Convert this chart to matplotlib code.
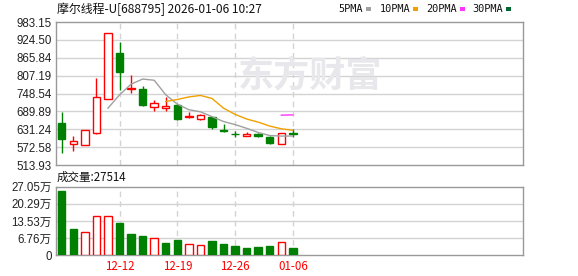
import matplotlib
matplotlib.use("Agg")
import matplotlib.pyplot as plt
import numpy as np
import pandas as pd

plt.rcParams['font.family'] = ['Liberation Sans', 'Noto Sans CJK SC', 'DejaVu Sans']

# ---------------- data ----------------
dates = ["12-05", "12-08", "12-09", "12-10", "12-11", "12-12", "12-15", "12-16", "12-17",
         "12-18", "12-19", "12-22", "12-23", "12-24", "12-25", "12-26", "12-29", "12-30",
         "12-31", "01-05", "01-06"]
opens = [650.8, 581.9, 580.6, 620.0, 731.5, 881.4, 763.5, 763.3, 705.2, 702.0, 710.8,
         671.5, 664.9, 670.4, 629.0, 617.0, 610.1, 615.7, 605.8, 583.8, 619.0]
closes = [600.3, 591.7, 627.8, 736.0, 946.0, 819.0, 767.0, 711.8, 716.4, 707.5, 665.9,
          675.7, 677.0, 637.6, 627.0, 615.5, 614.5, 609.1, 587.1, 617.9, 617.0]
highs = [687.9, 609.1, 628.0, 799.4, 946.5, 917.5, 809.3, 773.1, 727.2, 736.0, 714.1,
         688.9, 681.3, 672.4, 647.5, 625.5, 621.4, 620.0, 608.0, 618.0, 633.1]
lows = [554.4, 560.9, 578.0, 615.7, 731.0, 760.0, 751.2, 707.5, 692.1, 692.0, 661.6,
        667.2, 662.8, 631.1, 622.2, 607.0, 609.0, 607.0, 583.8, 583.5, 606.8]
volumes = [25.35, 10.37, 9.19, 15.38, 15.38, 12.86, 8.40, 7.60, 6.70, 4.85, 6.03,
           4.34, 3.94, 5.64, 4.46, 3.67, 2.88, 3.27, 3.67, 5.13, 2.7514]  # 万
price_ticks = [513.93, 572.58, 631.24, 689.89, 748.54, 807.19, 865.84, 924.50, 983.15]
price_tick_labels = ["513.93", "572.58", "631.24", "689.89", "748.54", "807.19", "865.84", "924.50", "983.15"]
vol_ticks = [0, 6.76, 13.53, 20.29, 27.05]
vol_tick_labels = ["0", "6.76万", "13.53万", "20.29万", "27.05万"]
date_ticks = ["12-12", "12-19", "12-26", "01-06"]
ma_periods = [5, 10, 20, 30]
ma_colors = ["#a0a0a0", "#f0a000", "#ff33ff", "#006633"]
title = "摩尔线程-U[688795] 2026-01-06 10:27"
vol_label = "成交量:27514"

RED = "#ff0000"
GREEN = "#008000"
GRID = "#d3d3d3"
BORDER = "#999999"

n = len(dates)
x = np.arange(n)
o = np.array(opens); c = np.array(closes); h = np.array(highs); l = np.array(lows)
up = c >= o
prev = np.concatenate([[o[0]], c[:-1]])
vol_up = c > prev

fig = plt.figure(figsize=(5.78, 2.76), dpi=100)
L, R = 56 / 578, 522.7 / 578
ax = fig.add_axes([L, 1 - 165 / 276, R - L, (165 - 22) / 276])
axv = fig.add_axes([L, 1 - 255.3 / 276, R - L, (255.3 - 186.7) / 276])

xlim = (-0.5, 39.9)
for a in (ax, axv):
    a.set_xlim(*xlim)
    for s in a.spines.values():
        s.set_color(BORDER)
        s.set_linewidth(1.0)
    a.tick_params(length=0)
    a.set_xticks([])

# ---- main price panel ----
ax.set_ylim(price_ticks[0], price_ticks[-1])
ax.set_yticks(price_ticks)
ax.set_yticklabels(price_tick_labels, fontsize=8.3, color="#222222")
ax.tick_params(axis='y', pad=3)
for t in price_ticks[1:-1]:
    ax.axhline(t, color=GRID, lw=1.0, zorder=0)
date_idx = [dates.index(d) for d in date_ticks]
for di in date_idx:
    ax.axvline(di, color=GRID, lw=1.0, ls=(0, (4, 3)), zorder=0)
    axv.axvline(di, color=GRID, lw=1.0, ls=(0, (4, 3)), zorder=0)

# watermark
ax.text((238 - 56) / (522.7 - 56), 0.62, "东方财富", transform=ax.transAxes, fontsize=26,
        color="#e8e8ec", family=['Noto Sans CJK SC'], fontweight='bold', ha='left',
        va='center', zorder=0.5)

width = 0.64
body_min = 1.2
for i in range(n):
    col = RED if up[i] else GREEN
    bot = min(o[i], c[i]); top = max(o[i], c[i])
    hgt = max(top - bot, body_min)
    ax.vlines(x[i], l[i], h[i], color=col, lw=1.0, zorder=2)
    if up[i]:
        ax.bar(x[i], hgt, width, bottom=bot, facecolor="white", edgecolor=col, lw=1.0, zorder=3)
    else:
        ax.bar(x[i], hgt, width, bottom=bot, facecolor=col, edgecolor=col, lw=1.0, zorder=3)

cs = pd.Series(c)
for p, colr in zip(ma_periods, ma_colors):
    ma = cs.rolling(p).mean()
    if ma.notna().sum() == 0:
        continue
    ax.plot(x, ma.values, color=colr, lw=1.0, zorder=4)

# ---- volume panel ----
axv.set_ylim(vol_ticks[0], vol_ticks[-1])
axv.set_yticks(vol_ticks)
axv.set_yticklabels(vol_tick_labels, fontsize=8.3, color="#222222")
axv.tick_params(axis='y', pad=3)
for t in vol_ticks[1:-1]:
    axv.axhline(t, color=GRID, lw=1.0, zorder=0)
for i in range(n):
    if vol_up[i]:
        axv.bar(x[i], volumes[i], width, facecolor="white", edgecolor=RED, lw=1.0, zorder=3)
    else:
        axv.bar(x[i], volumes[i], width, facecolor=GREEN, edgecolor=GREEN, lw=1.0, zorder=3)

# date labels
for di, d in zip(date_idx, date_ticks):
    axv.text(di, -0.17, d, transform=axv.get_xaxis_transform(), ha='center', va='center',
             fontsize=8.3, color=RED, family=['Noto Sans CJK SC'])

# texts
fig.text(57 / 578, 1 - 9 / 276, title, fontsize=8.6, ha='left', va='center',
         family=['Noto Sans CJK SC', 'DejaVu Sans'], color="#111111")
fig.text(57 / 578, 1 - 177 / 276, vol_label, fontsize=8.3, ha='left', va='center',
         family=['Noto Sans CJK SC', 'DejaVu Sans'], color="#111111")

sw_x = [366, 413, 460, 506]
for p, colr, sx in zip(ma_periods, ma_colors, sw_x):
    fig.text((sx - 3) / 578, 1 - 9 / 276, f"{p}PMA", fontsize=7.4, ha='right', va='center',
             family=['DejaVu Sans Mono'], color="#111111")
    fig.patches.append(plt.Rectangle((sx / 578, 1 - 10.5 / 276), 5 / 578, 3 / 276,
                                     transform=fig.transFigure, facecolor=colr, edgecolor='none'))

fig.savefig("out.png", dpi=100, facecolor="white")
